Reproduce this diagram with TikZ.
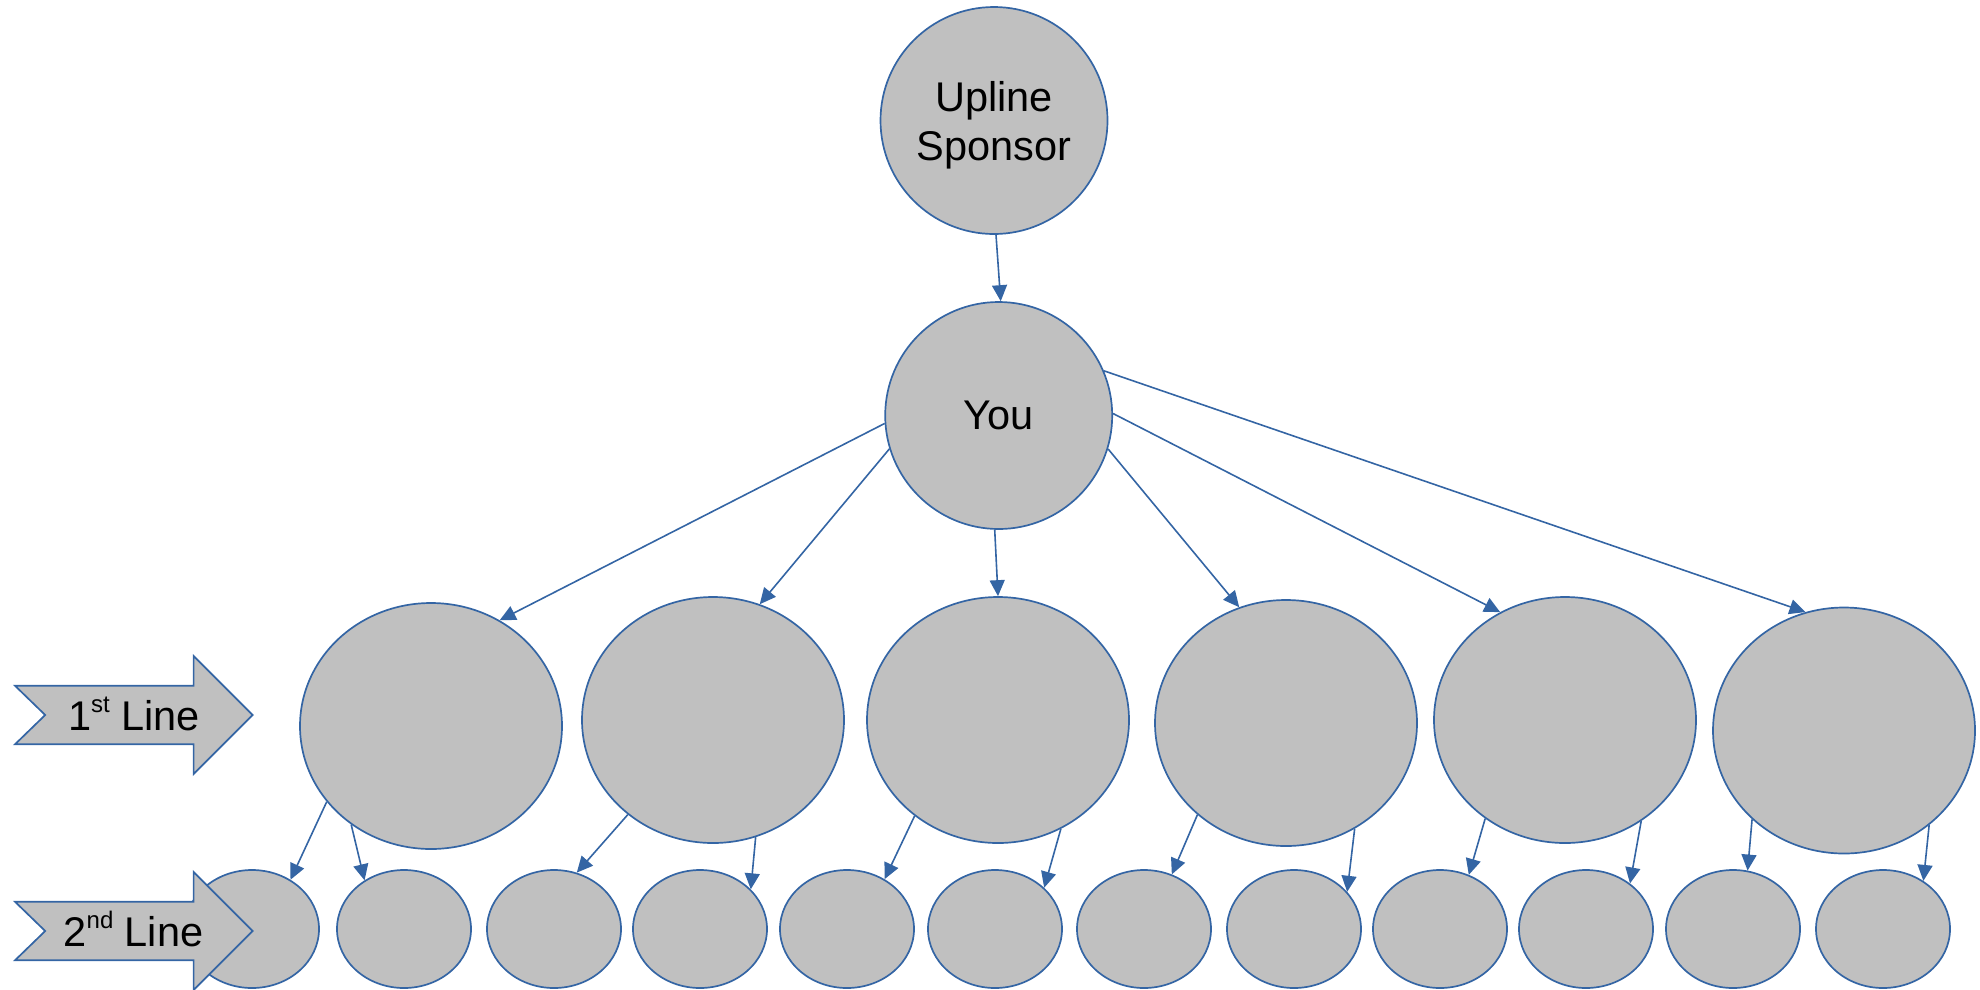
\documentclass[tikz,border=0pt]{standalone}
\usepackage{fontspec}
\setmainfont{Liberation Sans}
\usetikzlibrary{shapes.geometric,arrows.meta}
\definecolor{edgeblue}{HTML}{3465A4}
\definecolor{fillgray}{HTML}{C0C0C0}
\newcommand{\supr}[1]{\raisebox{18pt}{\fontsize{24}{24}\selectfont #1}}
\begin{document}
\begin{tikzpicture}[x=1pt,y=-1pt,
  bubble/.style={ellipse, draw=edgeblue, fill=fillgray, line width=1.7pt, inner sep=0pt,
                 font=\fontsize{41.5}{49}\selectfont, align=center},
  topbubble/.style={bubble, minimum width=227pt, minimum height=227pt},
  firstbubble/.style={bubble, minimum width=262pt, minimum height=246pt},
  secondbubble/.style={bubble, minimum width=134pt, minimum height=118pt},
  conn/.style={draw=edgeblue, line width=1.6pt, -{Triangle[length=16pt,width=15pt]}},
  labelarrow/.style={draw=edgeblue, fill=fillgray, line width=1.7pt},
  labeltext/.style={font=\fontsize{41.5}{49}\selectfont, inner sep=0pt, anchor=base}
]
\useasboundingbox (0,0) rectangle (1980,989);

% top nodes
\node[topbubble, text depth=0pt] (upline) at (994,120.5) {Upline\\Sponsor};
\node[topbubble] (you) at (998.7,415.5) {You};

% first line
\node[firstbubble] (f1) at (431,726) {};
\node[firstbubble] (f2) at (713,720) {};
\node[firstbubble] (f3) at (998,720) {};
\node[firstbubble] (f4) at (1286,723) {};
\node[firstbubble] (f5) at (1565,720) {};
\node[firstbubble] (f6) at (1844,730.5) {};

% second line
\node[secondbubble] (s1) at (252,929) {};
\node[secondbubble] (s2) at (404,929) {};
\node[secondbubble] (s3) at (554,929) {};
\node[secondbubble] (s4) at (700,929) {};
\node[secondbubble] (s5) at (847,929) {};
\node[secondbubble] (s6) at (995,929) {};
\node[secondbubble] (s7) at (1144,929) {};
\node[secondbubble] (s8) at (1294,929) {};
\node[secondbubble] (s9) at (1440,929) {};
\node[secondbubble] (s10) at (1586,929) {};
\node[secondbubble] (s11) at (1733,929) {};
\node[secondbubble] (s12) at (1883,929) {};

% connectors
\draw[conn] (upline.271.4) -- (you.89.7);

\draw[conn] (you.184.4) -- (f1.57.5);
\draw[conn] (you.197.8) -- (f2.68.2);
\draw[conn] (you.268.8) -- (f3.90.8);
\draw[conn] (you.343.9) -- (f4.112.3);
\draw[conn] (you.1.9) -- (f5.121.4);
\draw[conn] (you.23.7) -- (f6.108.2);

\draw[conn] (f1.216.5) -- (s1.52.4);
\draw[conn] (f1.231.2) -- (s2.129);
\draw[conn] (f2.228.6) -- (s3.68);
\draw[conn] (f2.290.4) -- (s4.38.8);
\draw[conn] (f3.229.9) -- (s5.53.9);
\draw[conn] (f3.300.7) -- (s6.40.8);
\draw[conn] (f4.226.6) -- (s7.63.2);
\draw[conn] (f4.303.9) -- (s8.35.7);
\draw[conn] (f5.231.3) -- (s9.62.7);
\draw[conn] (f5.307.6) -- (s10.46);
\draw[conn] (f6.224.2) -- (s11.76.8);
\draw[conn] (f6.312.4) -- (s12.50.8);

% line labels
\draw[labelarrow] (15,685.7) -- (193.6,685.7) -- (193.6,656) -- (252.6,715) -- (193.6,774)
  -- (193.6,744.3) -- (15,744.3) -- (45.2,715) -- cycle;
\node[labeltext] (l1) at (134,730.7) {1\supr{st} Line};

\draw[labelarrow] (15,901.7) -- (193.6,901.7) -- (193.6,872) -- (252.6,931) -- (193.6,990)
  -- (193.6,960.3) -- (15,960.3) -- (45.2,931) -- cycle;
\node[labeltext] (l2) at (133.5,946.7) {2\supr{nd} Line};
\end{tikzpicture}
\end{document}
